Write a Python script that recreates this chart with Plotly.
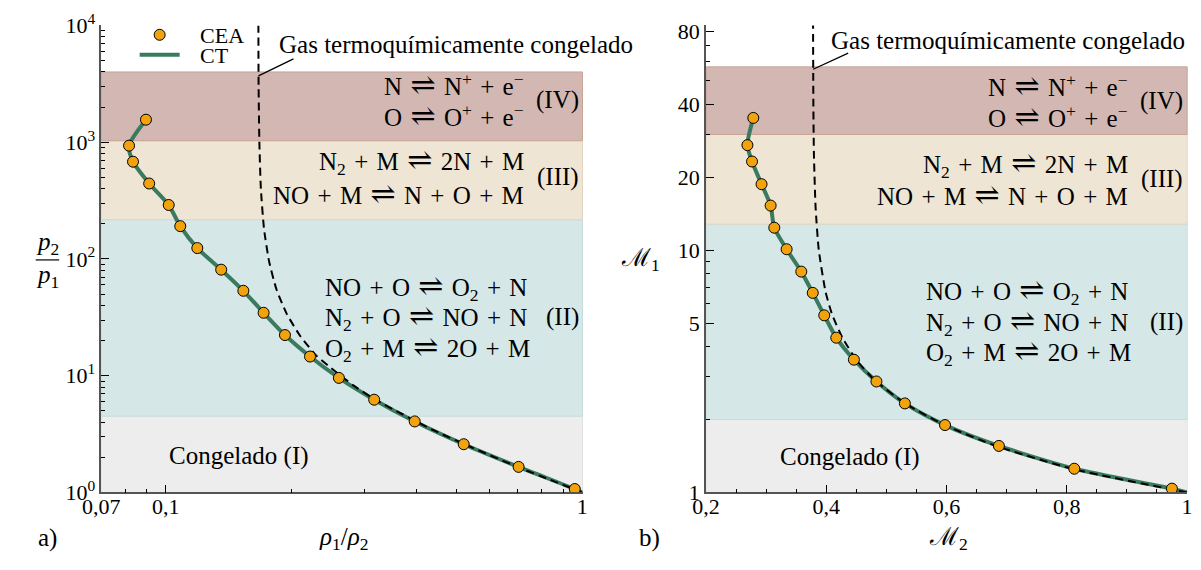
import plotly.graph_objects as go

W, H = 1201, 570

# ---------------- data ----------------
# (a) density ratio vs pressure ratio
rho_cea = [0.0896, 0.0816, 0.0834, 0.0912, 0.1016, 0.1083, 0.1190, 0.1358, 0.1535,
           0.1717, 0.1932, 0.2219, 0.2603, 0.3164, 0.3958, 0.519, 0.703, 0.959]
p_cea = [1560, 935, 681, 443, 290, 191, 124, 81, 53.4,
         34.6, 22.3, 14.6, 9.58, 6.23, 4.06, 2.59, 1.656, 1.07]
rho_ct = [0.0896, 0.0816, 0.0834, 0.0912, 0.1016, 0.1083, 0.1190, 0.1358, 0.1535,
          0.1717, 0.1932, 0.2219, 0.2603, 0.3164, 0.3958, 0.519, 0.703, 0.959, 1.0]
p_ct = [1560, 935, 681, 443, 290, 191, 124, 81, 53.4,
        34.6, 22.3, 14.6, 9.58, 6.23, 4.06, 2.59, 1.656, 1.07, 1.0]
rho_frozen = [1.0, 0.853, 0.70, 0.54, 0.44, 0.369, 0.319, 0.2815, 0.248, 0.23, 0.21,
              0.195, 0.1843, 0.177, 0.1721, 0.1691, 0.1677, 0.1670, 0.1668]
p_frozen = [1.0, 1.25, 1.65, 2.45, 3.4, 4.7, 6.2, 8.3, 11.8, 14.8, 22,
            34, 55, 95, 180, 400, 1000, 3000, 10000]

# (b) downstream vs upstream Mach number
m2_cea = [0.2787, 0.2689, 0.2766, 0.2924, 0.3075, 0.3136, 0.3341, 0.3585, 0.3776,
          0.3967, 0.4167, 0.446, 0.4835, 0.5308, 0.5976, 0.6872, 0.8126, 0.975]
m1_cea = [35.1, 27.1, 23.2, 18.7, 15.26, 12.37, 10.08, 8.15, 6.66,
          5.38, 4.35, 3.53, 2.87, 2.33, 1.897, 1.556, 1.253, 1.037]
m2_ct = [0.2787, 0.2689, 0.2766, 0.2924, 0.3075, 0.3136, 0.3341, 0.3585, 0.3776,
         0.3967, 0.4167, 0.446, 0.4835, 0.5308, 0.5976, 0.6872, 0.8126, 0.975, 1.0]
m1_ct = [35.1, 27.1, 23.2, 18.7, 15.26, 12.37, 10.08, 8.15, 6.66,
         5.38, 4.35, 3.53, 2.87, 2.33, 1.897, 1.556, 1.253, 1.037, 1.0]
m2_frozen = [1.0, 0.81, 0.684, 0.596, 0.531, 0.481, 0.451, 0.427, 0.410, 0.399,
             0.3876, 0.3823, 0.3795, 0.3786, 0.3781]
m1_frozen = [1.0, 1.25, 1.55, 1.9, 2.33, 2.9, 3.5, 4.35, 5.4, 6.7,
             10, 15, 25, 40, 85]

# regime band limits (I, II, III, IV)
bands_a = [1.0, 4.5, 217, 1030, 4000]
bands_b = [1.0, 2.0, 12.8, 30, 57]
band_fill = ['#ededed', '#d6e7e7', '#eee5d4', '#d3b7b2']
band_edge = ['#e2e2e2', '#c9dcdc', '#e2d6c2', '#c9a493']

# ticks
xa_ticks = [0.07, 0.1, 1]
xa_text = ['0,07', '0,1', '1']
xa_minor = [0.08, 0.09, 0.2, 0.3, 0.4, 0.5, 0.6, 0.7, 0.8, 0.9]
ya_ticks = [1, 10, 100, 1000, 10000]
ya_text = ['10<sup>0</sup>', '10<sup>1</sup>', '10<sup>2</sup>', '10<sup>3</sup>', '10<sup>4</sup>']
ya_minor = [2, 3, 4, 5, 6, 7, 8, 9, 20, 30, 40, 50, 60, 70, 80, 90,
            200, 300, 400, 500, 600, 700, 800, 900, 2000, 3000, 4000, 5000, 6000, 7000, 8000, 9000]
xb_ticks = [0.2, 0.4, 0.6, 0.8, 1.0]
xb_text = ['0,2', '0,4', '0,6', '0,8', '1']
xb_minor = [0.25, 0.3, 0.35, 0.45, 0.5, 0.55, 0.65, 0.7, 0.75, 0.85, 0.9, 0.95]
yb_ticks = [1, 5, 10, 20, 40, 80]
yb_text = ['1', '5', '10', '20', '40', '80']
yb_minor = [2, 3, 4, 6, 7, 8, 9, 30, 50, 60, 70]

GREEN = '#3a7b60'
ORANGE = '#f2a20c'
FONT = 'Liberation Serif, DejaVu Serif, serif'
PAD = '\u2002\u2009'

fig = go.Figure()

def add_panel(xr, yr, xc, yc, xd, yd, xa, ya, legend):
    fig.add_trace(go.Scatter(x=xc, y=yc, mode='lines', name=PAD + 'CT',
                             line=dict(color=GREEN, width=4, shape='spline', smoothing=0.7),
                             xaxis=xa, yaxis=ya, showlegend=legend, legend='legend2'))
    fig.add_trace(go.Scatter(x=xd, y=yd, mode='lines', name='frozen',
                             line=dict(color='black', width=2, dash='8px,5px', shape='spline', smoothing=0.5),
                             xaxis=xa, yaxis=ya, showlegend=False))
    fig.add_trace(go.Scatter(x=xr, y=yr, mode='markers', name=PAD + 'CEA',
                             marker=dict(size=11, color=ORANGE, line=dict(color='black', width=1)),
                             xaxis=xa, yaxis=ya, showlegend=legend, legend='legend'))

add_panel(rho_cea, p_cea, rho_ct, p_ct, rho_frozen, p_frozen, 'x', 'y', True)
add_panel(m2_cea, m1_cea, m2_ct, m1_ct, m2_frozen, m1_frozen, 'x2', 'y2', False)

shapes = []
for xref, yref, edges in (('x domain', 'y', bands_a), ('x2 domain', 'y2', bands_b)):
    for i in range(4):
        shapes.append(dict(type='rect', xref=xref, yref=yref, x0=0, x1=1,
                           y0=edges[i], y1=edges[i + 1], fillcolor=band_fill[i],
                           line=dict(color=band_edge[i], width=1), layer='below'))

def px(x):
    return x / W

def py(y):
    return 1 - y / H

annotations = []

def ann(text, x, y, xanchor='center', size=25, yanchor='middle'):
    annotations.append(dict(text=text, x=px(x), y=py(y), xref='paper', yref='paper',
                            xanchor=xanchor, yanchor=yanchor, showarrow=False,
                            font=dict(family=FONT, size=size, color='black')))

S = '\u2004'          # spacing around operators
EQ = S + '<span style="font-size:30px">\u21cc</span>' + S
PL = S + '+' + S
MINUS = '\u2212'

def panel_text(dx, dx2, ys, xc):
    ann(f'N{EQ}N<sup>+</sup>{PL}e<sup>{MINUS}</sup>', 517 + dx, ys[0], 'right')
    ann(f'O{EQ}O<sup>+</sup>{PL}e<sup>{MINUS}</sup>', 517 + dx, ys[1], 'right')
    ann('(IV)', 573 + dx, (ys[0] + ys[1]) / 2, 'right')
    ann(f'N<sub>2</sub>{PL}M{EQ}2N{PL}M', 517 + dx, ys[2], 'right')
    ann(f'NO{PL}M{EQ}N{PL}O{PL}M', 517 + dx, ys[3], 'right')
    ann('(III)', 573 + dx, (ys[2] + ys[3]) / 2, 'right')
    ann(f'NO{PL}O{EQ}O<sub>2</sub>{PL}N', 310 + dx2, ys[4], 'left')
    ann(f'N<sub>2</sub>{PL}O{EQ}NO{PL}N', 310 + dx2, ys[5], 'left')
    ann(f'O<sub>2</sub>{PL}M{EQ}2O{PL}M', 310 + dx2, ys[6], 'left')
    ann('(II)', 573 + dx, ys[5], 'right')
    ann('Congelado (I)', xc, ys[7], 'center')

panel_text(0, 0, [72, 105, 153, 187, 285, 317, 350, 464], 224)
panel_text(617, 613, [73, 106, 156, 188, 290, 322, 354, 465], 848)

ann('Gas termoquímicamente congelado', 263, 30, 'left')
ann('Gas termoquímicamente congelado', 827, 26, 'left')

# leader lines to the frozen curves
annotations.append(dict(text=' ', x=-0.7776, y=3.568, xref='x', yref='y', ax=37, ay=-18,
                        showarrow=True, arrowhead=0, arrowwidth=1.3, arrowcolor='black',
                        font=dict(size=2)))
annotations.append(dict(text=' ', x=0.3783, y=1.746, xref='x2', yref='y2', ax=37, ay=-17,
                        showarrow=True, arrowhead=0, arrowwidth=1.3, arrowcolor='black',
                        font=dict(size=2)))

# axis titles and panel labels
ann('<i>ρ</i><sub>1</sub>/<i>ρ</i><sub>2</sub>', 331, 550, 'center')
ann('ℳ<sub>2</sub>', 948, 550, 'center')
ann('a)', 29, 550, 'center')
ann('b)', 643, 550, 'center')
ann('<i>p</i><sub>2</sub>', 29, 240, 'center')
ann('<i>p</i><sub>1</sub>', 29, 274, 'center')
ann('ℳ<sub>1</sub>', 634, 257, 'center')
shapes.append(dict(type='line', xref='paper', yref='paper', x0=px(17), x1=px(41),
                   y0=py(257), y1=py(257), line=dict(color='black', width=1.2)))

tickfont = dict(family=FONT, size=22, color='black')
common = dict(showgrid=False, zeroline=False, showline=True, linecolor='#555', linewidth=1.5,
              ticks='inside', ticklen=8, tickwidth=1.2, tickcolor='black', tickfont=tickfont,
              tickmode='array')
ydom = [1 - 502 / H, 1 - 10 / H]
legfont = dict(family=FONT, size=22, color='black')

fig.update_layout(
    width=W, height=H, margin=dict(l=0, r=0, t=0, b=0),
    plot_bgcolor='white', paper_bgcolor='white',
    xaxis=dict(domain=[px(84), px(575)], type='log', range=[-1.1549, 0.0004], anchor='y',
               tickvals=xa_ticks, ticktext=xa_text, ticklabelstandoff=-7,
               minor=dict(tickvals=xa_minor, ticks='inside', ticklen=4, tickcolor='black', tickwidth=1),
               **common),
    yaxis=dict(domain=ydom, type='log', range=[0, 4.0], anchor='x',
               tickvals=ya_ticks, ticktext=ya_text,
               minor=dict(tickvals=ya_minor, ticks='inside', ticklen=4, tickcolor='black', tickwidth=1),
               **common),
    xaxis2=dict(domain=[px(701), px(1192)], range=[0.2, 1.0004], anchor='y2',
                tickvals=xb_ticks, ticktext=xb_text, ticklabelstandoff=-7,
                minor=dict(tickvals=xb_minor, ticks='inside', ticklen=4, tickcolor='black', tickwidth=1),
                **common),
    yaxis2=dict(domain=ydom, type='log', range=[0, 1.9266], anchor='x2',
                tickvals=yb_ticks, ticktext=yb_text,
                minor=dict(tickvals=yb_minor, ticks='inside', ticklen=4, tickcolor='black', tickwidth=1),
                **common),
    legend=dict(x=px(118), y=py(20), xanchor='left', yanchor='middle', bgcolor='rgba(0,0,0,0)',
                font=legfont, itemwidth=40),
    legend2=dict(x=px(118), y=py(41), xanchor='left', yanchor='middle', bgcolor='rgba(0,0,0,0)',
                 font=legfont, itemwidth=40),
    shapes=shapes, annotations=annotations,
)

fig.write_html('out.html', config={'displayModeBar': False},
               post_script="document.body.style.margin='0';document.body.style.padding='0';"
                           "document.documentElement.style.overflow='hidden';"
                           "document.body.style.overflow='hidden';")
